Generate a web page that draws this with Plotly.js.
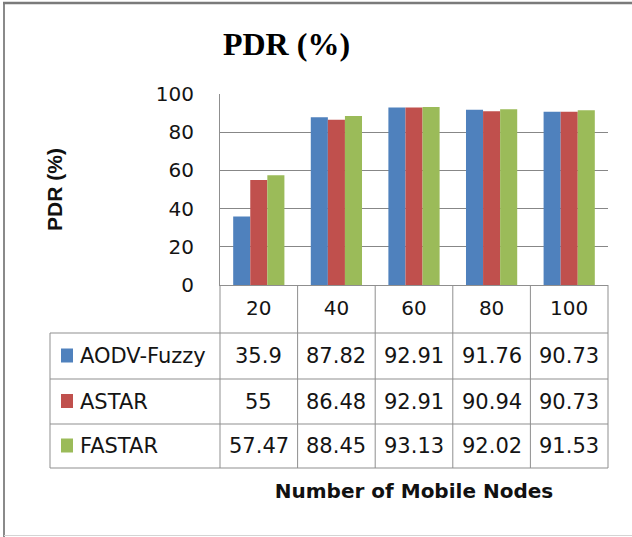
<!DOCTYPE html>
<html>
<head>
<meta charset="utf-8">
<script src="https://cdn.plot.ly/plotly-3.0.1.min.js"></script>
<style>
html,body{margin:0;padding:0;background:#fff;}
#chart{width:632px;height:537px;}
</style>
</head>
<body>
<div id="chart"></div>
<script>
// ---- data ----
const categories = ['20', '40', '60', '80', '100'];
const seriesNames = ['AODV-Fuzzy', 'ASTAR', 'FASTAR'];
const aodvFuzzy = [35.9, 87.82, 92.91, 91.76, 90.73];
const astar = [55, 86.48, 92.91, 90.94, 90.73];
const fastar = [57.47, 88.45, 93.13, 92.02, 91.53];
const yTickValues = [0, 20, 40, 60, 80, 100];
const chartTitle = 'PDR (%)';
const yTitle = 'PDR (%)';
const xTitle = 'Number of Mobile Nodes';

// ---- layout constants ----
const W = 632, H = 537;
const M = {l: 220, r: 24, t: 94, b: 252};
const plotW = W - M.l - M.r, plotH = H - M.t - M.b;
const px = x => (x - M.l) / plotW;           // pixel -> paper x
const py = y => (H - M.b - y) / plotH;       // pixel -> paper y
const colors = ['#4F81BD', '#C0504D', '#9BBB59'];
const seriesValues = [aodvFuzzy, astar, fastar];
const tableFont = {family: 'DejaVu Sans', size: 21, color: '#141414'};
const tickFont = {family: 'DejaVu Sans', size: 20, color: '#141414'};
const lineColor = '#8f8f8f';

const traces = seriesValues.map((vals, i) => ({
  type: 'bar',
  name: seriesNames[i],
  x: categories,
  y: vals,
  marker: {color: colors[i], line: {width: 0}},
  hoverinfo: 'x+y+name'
}));

// table geometry (pixels)
const tableLeft = 50, tableRight = W - M.r;
const rowBounds = [333, 379, 424, 468];

const shapes = [];
const line = (x0, y0, x1, y1, color, width) => shapes.push({
  type: 'line', xref: 'paper', yref: 'paper',
  x0: px(x0), y0: py(y0), x1: px(x1), y1: py(y1),
  line: {color: color || lineColor, width: width || 1}
});
// horizontal table lines
rowBounds.forEach(y => line(tableLeft, y, tableRight, y));
// vertical category column boundaries
for (let k = 0; k <= categories.length; k++) {
  const xp = k / categories.length;
  shapes.push({type: 'line', xref: 'paper', yref: 'paper',
    x0: xp, x1: xp, y0: 0, y1: py(rowBounds[rowBounds.length - 1]),
    line: {color: lineColor, width: 1}});
}
// left border of legend column
line(tableLeft, rowBounds[0], tableLeft, rowBounds[rowBounds.length - 1]);
// outer frame
line(4, 2, 4, H, '#8a8a8a', 2);
line(3, 3, W, 3, '#7a7a7a', 2.5);
line(4, 535.5, W, 535.5, '#d4d4d4', 1);

const annotations = [];
seriesValues.forEach((vals, i) => {
  const yTop = rowBounds[i], yBot = rowBounds[i + 1];
  const yc = (yTop + yBot) / 2;
  // legend key square
  shapes.push({type: 'rect', xref: 'paper', yref: 'paper',
    x0: px(61), x1: px(73), y0: py(yc - 7.5), y1: py(yc + 6.5),
    fillcolor: colors[i], line: {width: 0}});
  annotations.push({xref: 'paper', yref: 'paper', x: px(78), y: py(yc),
    xanchor: 'left', yanchor: 'middle', text: seriesNames[i],
    showarrow: false, font: tableFont});
  vals.forEach((v, j) => {
    // category axis position j (index of categories[j])
    annotations.push({xref: 'x', yref: 'paper', x: j, y: py(yc),
      xanchor: 'center', yanchor: 'middle', text: String(v),
      showarrow: false, font: tableFont});
  });
});

const layout = {
  width: W, height: H,
  margin: M,
  paper_bgcolor: '#ffffff',
  plot_bgcolor: '#ffffff',
  showlegend: false,
  barmode: 'group',
  bargap: 0.34,
  bargroupgap: 0,
  title: {
    text: '<b>' + chartTitle + '</b>',
    font: {family: 'Liberation Serif', size: 32, color: '#000'},
    x: 286.5 / W, xanchor: 'center',
    y: 1 - 44 / H, yanchor: 'middle'
  },
  xaxis: {
    type: 'category',
    range: [-0.5, categories.length - 0.5],
    showgrid: false,
    zeroline: false,
    showline: true, linecolor: lineColor, linewidth: 1,
    ticks: '',
    ticklabelstandoff: 5,
    tickfont: tickFont,
    fixedrange: true,
    title: {
      text: '<b>' + xTitle + '</b>',
      font: {family: 'DejaVu Sans', size: 20, color: '#111'},
      standoff: 164
    }
  },
  yaxis: {
    range: [0, 100],
    tickvals: yTickValues,
    ticktext: yTickValues.map(String),
    showgrid: true, gridcolor: '#878787', gridwidth: 1,
    zeroline: false,
    showline: true, linecolor: lineColor, linewidth: 1,
    ticks: '',
    ticklabelstandoff: 21,
    tickfont: tickFont,
    fixedrange: true,
    title: {
      text: '<b>' + yTitle + '</b>',
      font: {family: 'Liberation Sans', size: 21, color: '#111'},
      standoff: 87
    }
  },
  shapes: shapes,
  annotations: annotations
};

Plotly.newPlot('chart', traces, layout, {displayModeBar: false, staticPlot: true});
</script>
</body>
</html>
